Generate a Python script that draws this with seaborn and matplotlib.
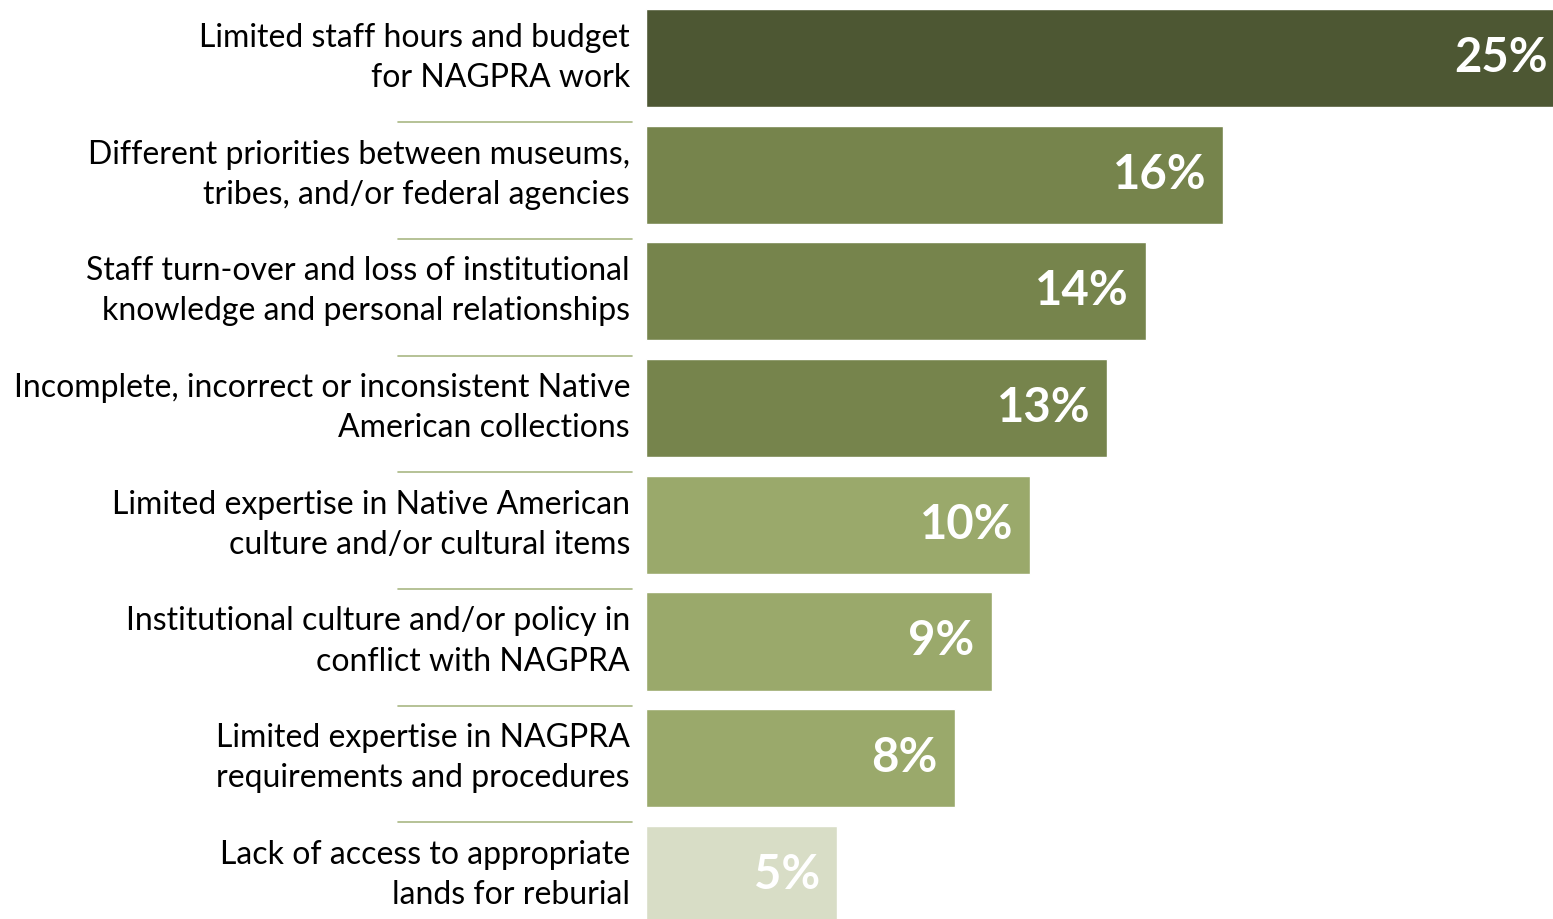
import matplotlib.pyplot as plt
import seaborn as sns
import pandas as pd
from matplotlib.transforms import blended_transform_factory

# data
categories = [
    "Limited staff hours and budget\nfor NAGPRA work",
    "Different priorities between museums,\ntribes, and/or federal agencies",
    "Staff turn-over and loss of institutional\nknowledge and personal relationships",
    "Incomplete, incorrect or inconsistent Native\nAmerican collections",
    "Limited expertise in Native American\nculture and/or cultural items",
    "Institutional culture and/or policy in\nconflict with NAGPRA",
    "Limited expertise in NAGPRA\nrequirements and procedures",
    "Lack of access to appropriate\nlands for reburial",
]
values = [25, 15.7, 13.6, 12.55, 10.45, 9.4, 8.4, 5.2]
value_labels = ["25%", "16%", "14%", "13%", "10%", "9%", "8%", "5%"]
colors = ["#4d5733", "#76844c", "#76844c", "#76844c",
          "#9aa96b", "#9aa96b", "#9aa96b", "#d8ddc6"]

df = pd.DataFrame({"cat": categories, "val": values})

sns.set_style("white")
plt.rcParams["font.family"] = ["Lato", "DejaVu Sans"]

W, H = 1553, 919
fig = plt.figure(figsize=(W / 100, H / 100), dpi=100)
ax = fig.add_axes([646 / W, 0, 1 - 646 / W, 1])

sns.barplot(data=df, x="val", y="cat", hue="cat", palette=colors,
            orient="h", width=0.84, legend=False, ax=ax, saturation=1)

ax.set_xlim(0, 24.67)
ax.set_ylim(7.378, -0.497)
ax.axis("off")

# value labels inside the bars
for i, (v, lab) in enumerate(zip(values, value_labels)):
    ax.annotate(lab, xy=(v, i), xytext=(-17, 0),
                textcoords="offset pixels", ha="right", va="center",
                color="white", fontsize=34, fontweight="bold",
                annotation_clip=False)

# category labels and separator lines to the left of the bars
tr = blended_transform_factory(fig.transFigure, ax.transData)
for i, cat in enumerate(categories):
    ax.text(630 / W, i, cat, transform=tr, ha="right", va="center",
            fontsize=23, linespacing=1.42, color="black", clip_on=False)
    if i < len(categories) - 1:
        ax.plot([398 / W, 632 / W], [i + 0.55, i + 0.55], transform=tr,
                color="#a9b784", lw=1.2, clip_on=False)

fig.savefig("out.png", dpi=100)
